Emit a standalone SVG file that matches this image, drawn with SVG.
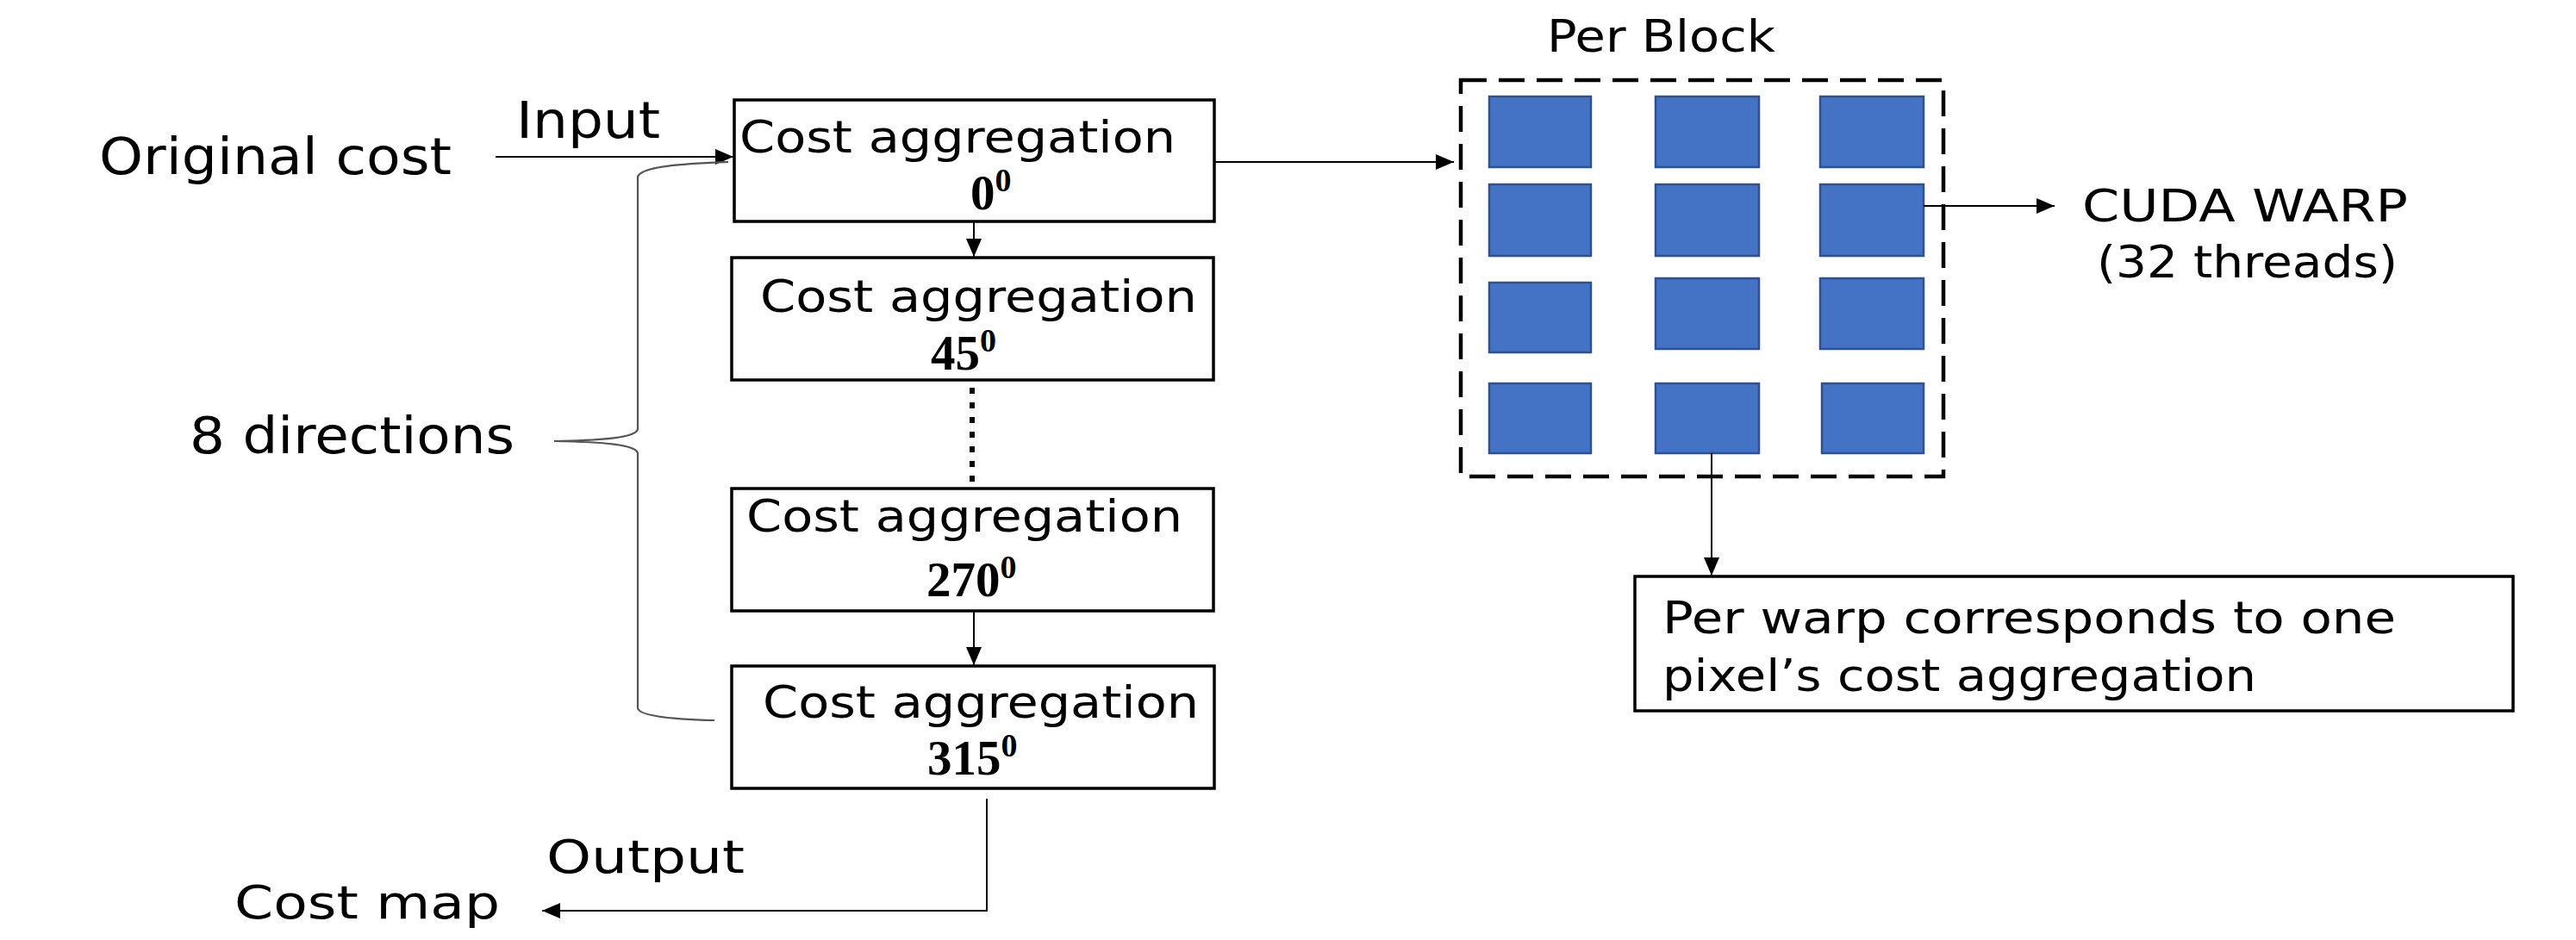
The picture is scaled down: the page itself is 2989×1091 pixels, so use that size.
<svg xmlns="http://www.w3.org/2000/svg" width="2989" height="1091" viewBox="0 0 2989 1091">
<defs>
<style>
.t{font-family:"DejaVu Sans","Noto Sans",sans-serif;fill:#000;}
.big{font-size:58px;}
.mid{font-size:54px;}
.box{fill:#fff;stroke:#000;stroke-width:3.5;}
.lbl{font-size:51px;}
.deg{font-family:"Liberation Serif","DejaVu Serif",serif;font-size:57px;font-weight:bold;fill:#000;}
.sup{font-size:38px;}
.cell{fill:#4472C4;stroke:#2F528F;stroke-width:2.5;}
.conn{fill:none;stroke:#000;stroke-width:2;}
.brace{fill:none;stroke:#555;stroke-width:2.2;}
</style>
<marker id="ah" markerUnits="userSpaceOnUse" markerWidth="22" markerHeight="18" refX="21" refY="9" orient="auto">
<path d="M0,0 L21,9 L0,18 z" fill="#000"/>
</marker>
</defs>

<g id="labels">
<text class="t big" x="115" y="202" textLength="409" lengthAdjust="spacingAndGlyphs">Original cost</text>
<text class="t big" x="599" y="160" textLength="167" lengthAdjust="spacingAndGlyphs">Input</text>
<text class="t big" x="220" y="526" textLength="377" lengthAdjust="spacingAndGlyphs">8 directions</text>
<text class="t mid" x="634" y="1013" textLength="230" lengthAdjust="spacingAndGlyphs">Output</text>
<text class="t mid" x="272" y="1066" textLength="308" lengthAdjust="spacingAndGlyphs">Cost map</text>
<text class="t lbl" x="1795" y="60" textLength="265" lengthAdjust="spacingAndGlyphs">Per Block</text>
<text class="t lbl" x="2416" y="257" textLength="378" lengthAdjust="spacingAndGlyphs">CUDA WARP</text>
<text class="t lbl" x="2433" y="322" textLength="349" lengthAdjust="spacingAndGlyphs">(32 threads)</text>
</g>

<g id="agg0">
<rect class="box" x="852" y="116" width="557" height="141"/>
<text class="t lbl" x="858" y="177" textLength="506" lengthAdjust="spacingAndGlyphs">Cost aggregation</text>
<text class="deg" x="1126" y="243">0<tspan class="sup" dy="-21">0</tspan></text>
</g>
<g id="agg45">
<rect class="box" x="849" y="299" width="559" height="142"/>
<text class="t lbl" x="882" y="362" textLength="507" lengthAdjust="spacingAndGlyphs">Cost aggregation</text>
<text class="deg" x="1080" y="429">45<tspan class="sup" dy="-21">0</tspan></text>
</g>
<g id="agg270">
<rect class="box" x="849" y="567" width="559" height="142"/>
<text class="t lbl" x="866" y="617" textLength="506" lengthAdjust="spacingAndGlyphs">Cost aggregation</text>
<text class="deg" x="1075" y="692">270<tspan class="sup" dy="-21">0</tspan></text>
</g>
<g id="agg315">
<rect class="box" x="849" y="773" width="560" height="142"/>
<text class="t lbl" x="885" y="833" textLength="506" lengthAdjust="spacingAndGlyphs">Cost aggregation</text>
<text class="deg" x="1076" y="899">315<tspan class="sup" dy="-21">0</tspan></text>
</g>

<g id="block">
<rect x="1695" y="93" width="560" height="460" fill="none" stroke="#000" stroke-width="4.5" stroke-dasharray="30 14"/>
<rect class="cell" x="1728" y="112" width="118" height="82"/>
<rect class="cell" x="1921" y="112" width="120" height="82"/>
<rect class="cell" x="2112" y="112" width="120" height="82"/>
<rect class="cell" x="1728" y="214" width="118" height="83"/>
<rect class="cell" x="1921" y="214" width="120" height="83"/>
<rect class="cell" x="2112" y="214" width="120" height="83"/>
<rect class="cell" x="1728" y="328" width="118" height="81"/>
<rect class="cell" x="1921" y="323" width="120" height="82"/>
<rect class="cell" x="2112" y="323" width="120" height="82"/>
<rect class="cell" x="1728" y="445" width="118" height="81"/>
<rect class="cell" x="1921" y="445" width="120" height="81"/>
<rect class="cell" x="2114" y="445" width="118" height="81"/>
</g>

<g id="warpnote">
<rect class="box" x="1897" y="669" width="1019" height="156"/>
<text class="t lbl" x="1929" y="735" textLength="851" lengthAdjust="spacingAndGlyphs">Per warp corresponds to one</text>
<text class="t lbl" x="1929" y="802" textLength="689" lengthAdjust="spacingAndGlyphs">pixel’s cost aggregation</text>
</g>

<g id="connectors">
<line class="conn" x1="575" y1="182" x2="851" y2="182" marker-end="url(#ah)"/>
<line class="conn" x1="1130" y1="258" x2="1130" y2="298" marker-end="url(#ah)"/>
<line x1="1128" y1="450" x2="1128" y2="566" stroke="#000" stroke-width="6" stroke-dasharray="7 10"/>
<line class="conn" x1="1130" y1="710" x2="1130" y2="772" marker-end="url(#ah)"/>
<polyline class="conn" points="1145,927 1145,1057 629,1057" marker-end="url(#ah)"/>
<line class="conn" x1="1409" y1="188" x2="1687" y2="188" marker-end="url(#ah)"/>
<line class="conn" x1="2232" y1="239" x2="2384" y2="239" marker-end="url(#ah)"/>
<line class="conn" x1="1986" y1="526" x2="1986" y2="668" marker-end="url(#ah)"/>
<path class="brace" d="M845,188 C800,190 745,192 740,205 L740,498 C738,508 700,511 643,512 C700,513 738,516 740,526 L740,822 C742,832 790,835 829,836"/>
</g>
</svg>
